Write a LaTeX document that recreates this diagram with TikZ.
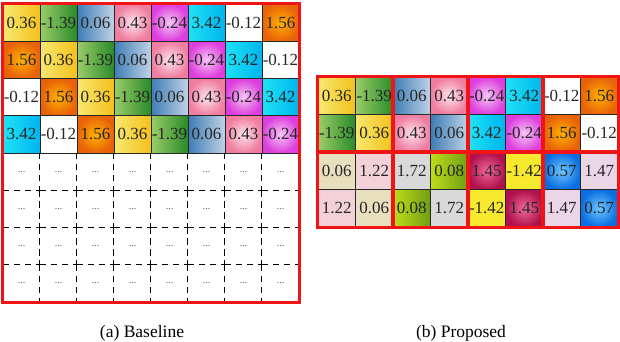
\documentclass[tikz,border=0pt]{standalone}
\usepackage{fontspec}
\setmainfont{Liberation Serif}
\usepackage{tikz}
\usetikzlibrary{positioning}
\usepackage{xcolor}
\definecolor{frameRed}{RGB}{240, 20, 20}

% values of the first row and of the new lower rows
\def\rowvals{{"0.36","-1.39","0.06","0.43","-0.24","3.42","-0.12","1.56"}}
\def\newvals{{"0.06","1.22","1.72","0.08","1.45","-1.42","0.57","1.47"}}

\tikzset{
  cellA/.style={draw=black!85, line width=0.8pt, inner sep=0pt, text=black!85,
    minimum width=37pt, minimum height=37.25pt, font=\fontsize{17}{17}\selectfont},
  cellB/.style={cellA, minimum width=37.5pt, minimum height=37.5pt},
  dotcell/.style={inner sep=0pt, minimum width=37pt, minimum height=37.25pt,
    text=black!65, font=\fontsize{10}{10}\selectfont},
  dashline/.style={black, line width=1pt, dash pattern=on 6.5pt off 4.5pt},
  frame/.style={draw=frameRed, line width=2.8pt},
  caption/.style={font=\fontsize{17.5}{18}\selectfont},
  % palette of the repeated row
  s0/.style={left color={rgb,255:red,247;green,232;blue,112}, right color={rgb,255:red,245;green,192;blue,27}},
  s1/.style={left color={rgb,255:red,154;green,205;blue,104}, right color={rgb,255:red,42;green,138;blue,42}},
  s2/.style={left color={rgb,255:red,61;green,125;blue,181}, right color={rgb,255:red,192;green,210;blue,230}},
  s3/.style={inner color={rgb,255:red,253;green,228;blue,236}, outer color={rgb,255:red,240;green,124;blue,160}},
  s4/.style={inner color={rgb,255:red,246;green,198;blue,246}, outer color={rgb,255:red,221;green,62;blue,221}},
  s5/.style={left color={rgb,255:red,30;green,227;blue,245}, middle color={rgb,255:red,191;green,248;blue,255}, right color={rgb,255:red,0;green,180;blue,238}},
  s6/.style={fill=white},
  s7/.style={inner color={rgb,255:red,255;green,179;blue,0}, outer color={rgb,255:red,232;green,98;blue,10}},
  % palette of the new rows
  t0/.style={fill={rgb,255:red,232;green,223;blue,191}},
  t1/.style={fill={rgb,255:red,242;green,210;blue,216}},
  t2/.style={fill={rgb,255:red,217;green,217;blue,217}},
  t3/.style={left color={rgb,255:red,192;green,220;blue,24}, right color={rgb,255:red,110;green,158;blue,20}},
  t4/.style={inner color={rgb,255:red,238;green,106;blue,152}, outer color={rgb,255:red,176;green,16;blue,76}},
  t5/.style={fill={rgb,255:red,247;green,234;blue,46}},
  t6/.style={inner color={rgb,255:red,110;green,200;blue,255}, outer color={rgb,255:red,10;green,110;blue,224}},
  t7/.style={fill={rgb,255:red,234;green,214;blue,230}},
}

\begin{document}
\begin{tikzpicture}[x=1pt, y=-1pt]
  \useasboundingbox (0,0) rectangle (620,342);

  % Baseline: every row is the one above shifted by one cell
  \foreach \r in {1,...,4}
    \foreach \c in {1,...,8} {
      \pgfmathtruncatemacro\k{mod(\c-\r+8,8)}
      \pgfmathsetmacro\val{\rowvals[\k]}
      \node[cellA, s\k] (a-\r-\c) at ({3+37*(\c-0.5)}, {4+37.25*(\r-0.5)}) {\val};
    }
  \foreach \r in {5,...,8}
    \foreach \c in {1,...,8} {
      \node[dotcell] (a-\r-\c) at ({3+37*(\c-0.5)}, {4+37.25*(\r-0.5)}) {...};
      \draw[dashline] (a-\r-\c.north west) -- (a-\r-\c.south west);
      \ifnum\r>5
        \draw[dashline] (a-\r-\c.north west) -- (a-\r-\c.north east);
      \fi
    }
  \draw[frame] (a-1-1.north west) rectangle (a-8-8.south east);

  % Proposed: 2x2 blocks with swapped pairs
  \foreach \r in {1,...,4}
    \foreach \c in {1,...,8} {
      \pgfmathtruncatemacro\k{mod(\r,2)==1 ? \c-1 : (mod(\c,2)==1 ? \c : \c-2)}
      \ifnum\r<3
        \pgfmathsetmacro\val{\rowvals[\k]}\def\pal{s}
      \else
        \pgfmathsetmacro\val{\newvals[\k]}\def\pal{t}
      \fi
      \node[cellB, \pal\k] (b-\r-\c) at ({318+37.5*(\c-0.5)}, {77+37.5*(\r-0.5)}) {\val};
    }
  \foreach \r in {1,3}
    \foreach \c in {1,3,5,7} {
      \pgfmathtruncatemacro\rr{\r+1}
      \pgfmathtruncatemacro\cc{\c+1}
      \draw[frame] (b-\r-\c.north west) rectangle (b-\rr-\cc.south east);
    }

  % Captions
  \node[caption] (capA) at (142,333) {(a) Baseline};
  \node[caption] (capB) at (461,333) {(b) Proposed};
\end{tikzpicture}
\end{document}
